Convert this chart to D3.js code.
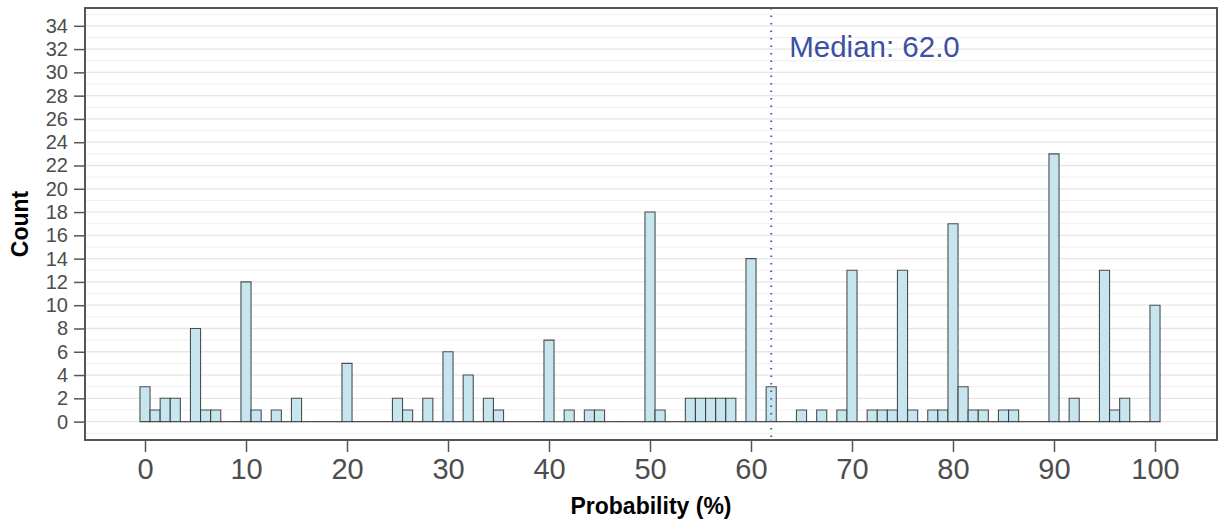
<!DOCTYPE html>
<html>
<head>
<meta charset="utf-8">
<script src="https://cdn.jsdelivr.net/npm/d3@7"></script>
<style>
	body { margin: 0; background: #fff; }
	svg { display: block; font-family: "Liberation Sans", Arial, sans-serif; }
</style>
</head>
<body>
<div id="chart"></div>
<script>
// probability values (%) that have at least one response, and their counts
const probs  = [0, 1, 2, 3, 5, 6, 7, 10, 11, 13, 15, 20, 25, 26, 28, 30, 32, 34, 35, 40,
	42, 44, 45, 50, 51, 54, 55, 56, 57, 58, 60, 62, 65, 67, 69, 70, 72, 73, 74, 75,
	76, 78, 79, 80, 81, 82, 83, 85, 86, 90, 92, 95, 96, 97, 100];
const counts = [3, 1, 2, 2, 8, 1, 1, 12, 1, 1, 2, 5, 2, 1, 2, 6, 4, 2, 1, 7,
	1, 1, 1, 18, 1, 2, 2, 2, 2, 2, 14, 3, 1, 1, 1, 13, 1, 1, 1, 13,
	1, 1, 1, 17, 3, 1, 1, 1, 1, 23, 2, 13, 1, 2, 10];
const xTicks = [0, 10, 20, 30, 40, 50, 60, 70, 80, 90, 100];
const yTicks = d3.range(0, 35, 2);
const median = 62.0;

const W = 1224, H = 521;
const panel = {left: 85, right: 1217, top: 8, bottom: 440};

// one bin per integer 0..100, empty bins drawn flat
const countOf = new Map(probs.map((p, i) => [p, counts[i]]));
const bins = d3.range(0, 101).map(p => ({x: p, n: countOf.get(p) || 0}));

const x = d3.scaleLinear().domain([-6.04, 106.04]).range([panel.left - 1, panel.right - 1]);
const y = d3.scaleLinear().domain([-1.58, 35.53]).range([panel.bottom, panel.top]);

const svg = d3.select('#chart').append('svg')
	.attr('width', W)
	.attr('height', H);

// grid: minor (odd) and major (even) horizontal lines
const grid = svg.append('g');
grid.selectAll('.minor')
	.data(d3.range(-1, 36, 2))
	.enter().append('line')
	.attr('x1', panel.left).attr('x2', panel.right)
	.attr('y1', d => y(d)).attr('y2', d => y(d))
	.attr('stroke', '#efefef').attr('stroke-width', 1);
grid.selectAll('.major')
	.data(yTicks)
	.enter().append('line')
	.attr('x1', panel.left).attr('x2', panel.right)
	.attr('y1', d => y(d)).attr('y2', d => y(d))
	.attr('stroke', '#e6e6e6').attr('stroke-width', 1.3);

// bars
svg.append('g')
	.selectAll('path')
	.data(bins)
	.enter().append('path')
	.attr('d', d => {
		let x0 = x(d.x - 0.5), x1 = x(d.x + 0.5), y0 = y(0), y1 = y(d.n);
		return 'M' + x0 + ',' + y0 + 'V' + y1 + 'H' + x1 + 'V' + y0 + 'Z';
	})
	.attr('fill', '#c6e5ef')
	.attr('stroke', '#333')
	.attr('stroke-opacity', 0.85)
	.attr('stroke-width', 1.1);

// median line + label
svg.append('line')
	.attr('x1', x(median)).attr('x2', x(median))
	.attr('y1', panel.top).attr('y2', panel.bottom)
	.attr('stroke', '#4b5bbb')
	.attr('stroke-width', 2)
	.attr('stroke-dasharray', '1.6,5.9');

svg.append('text')
	.attr('x', x(median) + 18)
	.attr('y', 57)
	.attr('fill', '#3c50a3')
	.style('font-size', '29.5px')
	.text('Median: ' + median.toFixed(1));

// panel border
svg.append('rect')
	.attr('x', panel.left).attr('y', panel.top)
	.attr('width', panel.right - panel.left)
	.attr('height', panel.bottom - panel.top)
	.attr('fill', 'none')
	.attr('stroke', '#555')
	.attr('stroke-width', 2);

// axes
let xAxis = d3.axisBottom(x).tickValues(xTicks).tickSize(11).tickPadding(5).tickSizeOuter(0);
let yAxis = d3.axisLeft(y).tickValues(yTicks).tickSize(10).tickPadding(6).tickSizeOuter(0);

let gx = svg.append('g')
	.attr('transform', 'translate(0,' + (panel.bottom + 1) + ')')
	.call(xAxis);
gx.select('.domain').remove();
gx.selectAll('line').attr('stroke', '#555').attr('stroke-width', 1.5);
gx.selectAll('text').attr('fill', '#4d4d4d').style('font-size', '29px').attr('dy', '0.75em');

let gy = svg.append('g')
	.attr('transform', 'translate(' + (panel.left - 1) + ',0)')
	.call(yAxis);
gy.select('.domain').remove();
gy.selectAll('line').attr('stroke', '#555').attr('stroke-width', 1.5);
gy.selectAll('text').attr('fill', '#4d4d4d').style('font-size', '20px');

// axis titles
svg.append('text')
	.attr('x', (panel.left + panel.right) / 2)
	.attr('y', 514)
	.attr('text-anchor', 'middle')
	.style('font-size', '23px')
	.style('font-weight', 'bold')
	.text('Probability (%)');

svg.append('text')
	.attr('transform', 'translate(28,' + ((panel.top + panel.bottom) / 2) + ') rotate(-90)')
	.attr('text-anchor', 'middle')
	.style('font-size', '23px')
	.style('font-weight', 'bold')
	.text('Count');
</script>
</body>
</html>
